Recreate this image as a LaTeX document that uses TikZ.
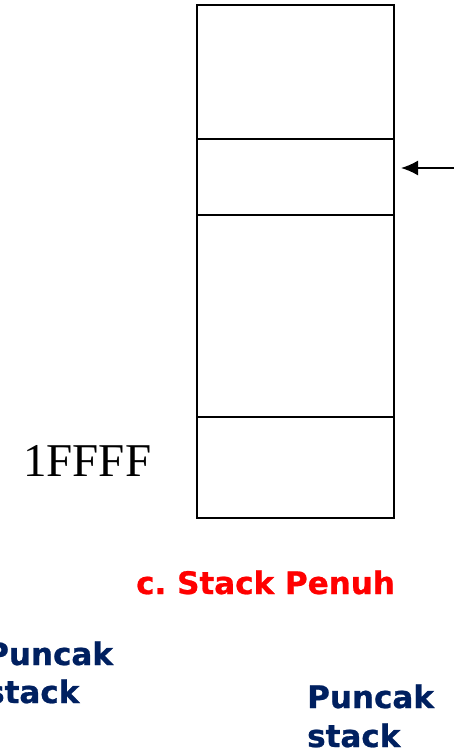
\documentclass[tikz,border=0pt]{standalone}
\usepackage{fontspec}
\setmainfont{Liberation Serif}
\newfontfamily\dvsans[FakeBold=0.8]{DejaVu Sans Bold}
\usetikzlibrary{arrows.meta}
\definecolor{navy}{RGB}{0,32,96}
\definecolor{pure red}{RGB}{255,0,0}
\frenchspacing
\tikzset{
  cell/.style={draw=black, line width=2.5pt, minimum width=197pt, inner sep=0pt, outer sep=0pt},
  lbl/.style={inner sep=0pt, anchor=base west},
  bluetext/.style={lbl, text=navy, font=\dvsans\fontsize{31}{38}\selectfont, align=left},
}
\begin{document}
\begin{tikzpicture}[x=1pt,y=-1pt]
\useasboundingbox (0,0) rectangle (454,751);
\node[cell, minimum height=134pt] (c1) at (295.5,72) {};
\node[cell, minimum height=76pt] (c2) at (295.5,177) {};
\node[cell, minimum height=202pt] (c3) at (295.5,316) {};
\node[cell, minimum height=101pt] (c4) at (295.5,467.5) {};
\coordinate (tail) at (462,168);
\coordinate (tip) at (401,168);
\draw[line width=1.8pt, -{Latex[length=17pt,width=15pt]}] (tail) -- (tip);
\node[lbl, font=\fontsize{47}{50}\selectfont] (addr) at (23,476) {1FFFF};
\node[lbl, text=pure red, font=\dvsans\fontsize{31}{38}\selectfont] (title) at (136,594) {c. Stack Penuh};
\node[bluetext] (p1a) at (-14,665) {Puncak};
\node[bluetext] (p1b) at (-14,703) {stack};
\node[bluetext] (p2a) at (307,708) {Puncak};
\node[bluetext] (p2b) at (307,747) {stack};
\end{tikzpicture}
\end{document}
